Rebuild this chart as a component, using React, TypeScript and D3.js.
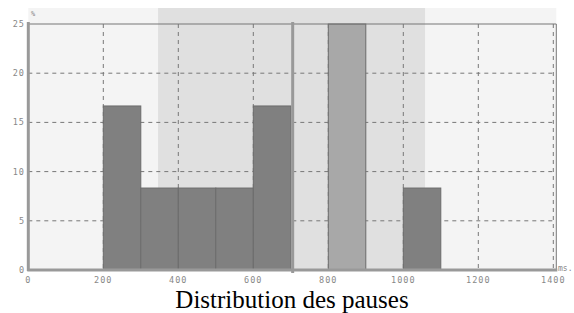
import React from "react";
import { scaleLinear } from "d3";

// histogram bins (ms) and share of pauses (%)
const binStarts = [200, 300, 400, 500, 600, 800, 1000];
const binShares = [16.67, 8.33, 8.33, 8.33, 16.67, 25, 8.33];
const binWidth = 100;
const highlightBin = 800;

// shaded zone and central marker
const bandRange = [346, 1058];
const centerMark = 705;

const xTicks = [0, 200, 400, 600, 800, 1000, 1200, 1400];
const yTicks = [0, 5, 10, 15, 20, 25];

const W = 574;
const H = 313;

const App = () => {
  const xScale = scaleLinear().domain([0, 1400]).range([28.3, 553.3]);
  const yScale = scaleLinear().domain([0, 25]).range([270, 24]);

  const left = xScale(0);
  const right = xScale(1400) + 3;
  const top = yScale(25);
  const bottom = yScale(0);

  const bars = binStarts.map((b, i) => (
    <rect
      key={b}
      x={xScale(b)}
      y={yScale(binShares[i])}
      width={xScale(b + binWidth) - xScale(b)}
      height={bottom - yScale(binShares[i])}
      fill={b === highlightBin ? "#a8a8a8" : "#808080"}
      stroke="#6c6c6c"
      strokeWidth={1}
    />
  ));

  const vGrid = xTicks.filter((t) => t > 0).map((t) => (
    <line
      key={t}
      x1={xScale(t)}
      x2={xScale(t)}
      y1={top}
      y2={bottom}
      stroke="#777"
      strokeDasharray="4,4"
    />
  ));

  const hGrid = yTicks.filter((t) => t > 0 && t < 25).map((t) => (
    <line
      key={t}
      x1={left}
      x2={right}
      y1={yScale(t)}
      y2={yScale(t)}
      stroke="#777"
      strokeDasharray="4,4"
    />
  ));

  const xLabels = xTicks.map((t) => (
    <text
      key={t}
      x={xScale(t)}
      y={283}
      textAnchor="middle"
      fontSize="8.5"
      fill="#888"
      letterSpacing="1"
      fontFamily="DejaVu Sans Mono"
    >
      {t}
    </text>
  ));

  const yLabels = yTicks.map((t) => (
    <text
      key={t}
      x={25}
      y={yScale(t) + 3}
      textAnchor="end"
      fontSize="8.5"
      fill="#888"
      letterSpacing="1"
      fontFamily="DejaVu Sans Mono"
    >
      {t}
    </text>
  ));

  return (
    <svg
      width={W}
      height={H}
      viewBox={`0 0 ${W} ${H}`}
      style={{ position: "absolute", left: 0, top: 0, background: "#fff" }}
    >
      <rect x={left} y={8} width={right - left} height={bottom - 8} fill="#f4f4f4" />
      <rect
        x={xScale(bandRange[0])}
        y={8}
        width={xScale(bandRange[1]) - xScale(bandRange[0])}
        height={bottom - 8}
        fill="#e0e0e0"
      />
      {vGrid}
      {hGrid}
      {bars}
      <line x1={left} x2={right} y1={top} y2={top} stroke="#777" strokeWidth={1} />
      <line x1={right} x2={right} y1={top} y2={bottom} stroke="#777" strokeWidth={1} />
      <line
        x1={xScale(centerMark)}
        x2={xScale(centerMark)}
        y1={top - 2}
        y2={bottom + 3}
        stroke="#999"
        strokeWidth={3}
      />
      <line x1={left} x2={left} y1={top - 2} y2={bottom + 1} stroke="#999" strokeWidth={3} />
      <line x1={left - 1} x2={right + 1} y1={bottom} y2={bottom} stroke="#999" strokeWidth={3} />
      {xLabels}
      {yLabels}
      <text x={31} y={16} fontSize="7" fill="#888" fontFamily="DejaVu Sans Mono">%</text>
      <text x={558} y={271} fontSize="8" fill="#888" fontFamily="DejaVu Sans Mono">ms.</text>
      <text
        x={292}
        y={308}
        textAnchor="middle"
        fontSize="25"
        fill="#000"
        fontFamily="Liberation Serif, Times New Roman, serif"
      >
        Distribution des pauses
      </text>
    </svg>
  );
};

export default App;
